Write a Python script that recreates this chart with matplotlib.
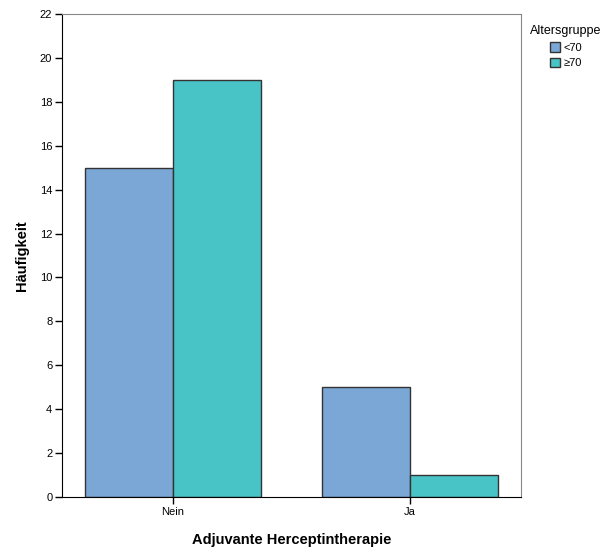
import matplotlib.pyplot as plt
import numpy as np
from matplotlib.patches import Patch

# -------------------------
# DATA
# -------------------------

categories = ["Nein", "Ja"]
groups = ["<70", "≥70"]
counts_lt70 = [15, 5]
counts_ge70 = [19, 1]
colors = ["#7BA7D6", "#48C3C6"]

plt.rcParams['font.family'] = ['Liberation Sans', 'DejaVu Sans']

# -------------------------
# CREATE GRAPH
# -------------------------

fig = plt.figure(figsize=(6.1, 5.49), dpi=100)
ax = fig.add_axes([0.1016, 0.0947, 0.7525, 0.8798])

x = np.arange(len(categories))
w = 0.371

ax.bar(x - w / 2, counts_lt70, w, color=colors[0], edgecolor="#333333", linewidth=1)
ax.bar(x + w / 2, counts_ge70, w, color=colors[1], edgecolor="#333333", linewidth=1)

ax.set_xlim(-0.468, 1.468)
ax.set_ylim(0, 22)
ax.set_yticks(range(0, 23, 2))
ax.set_xticks(x)
ax.set_xticklabels(categories)

ax.tick_params(axis="both", labelsize=8, length=5, width=1, color="black", pad=2)

for side in ["top", "right"]:
    ax.spines[side].set_color("#888888")
for side in ["left", "bottom"]:
    ax.spines[side].set_color("black")

ax.set_ylabel("Häufigkeit", fontsize=10.5, fontweight="bold", labelpad=8)
ax.set_xlabel("Adjuvante Herceptintherapie", fontsize=10.5, fontweight="bold", labelpad=12)

# -------------------------
# LEGEND
# -------------------------

fig.text(0.869, 0.943, "Altersgruppe", fontsize=9, va="center", ha="left")

handles = [Patch(facecolor=c, edgecolor="#333333", label=g) for c, g in zip(colors, groups)]
fig.legend(handles=handles, loc="upper left", bbox_to_anchor=(0.895, 0.931),
           frameon=False, fontsize=8, handlelength=0.9, handleheight=0.9,
           handletextpad=0.3, labelspacing=0.45, borderaxespad=0)

plt.savefig("out.png", dpi=100)
